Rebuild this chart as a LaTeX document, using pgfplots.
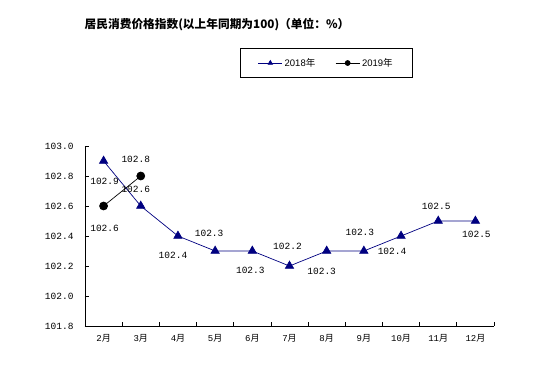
\documentclass[border=0pt]{standalone}
\usepackage{fontspec}
\setmainfont{Liberation Mono}
\newfontfamily\cjk{Noto Sans CJK SC}
\newfontfamily\sans{Liberation Sans}
\usepackage{pgfplots}
\pgfplotsset{compat=1.18}
\definecolor{navyc}{RGB}{0,0,128}
\begin{document}
\begin{tikzpicture}
\useasboundingbox (0pt,0pt) rectangle (539pt,388pt);
\node[font=\cjk\bfseries\fontsize{11.7}{13}\selectfont] at (217pt,363pt) {居民消费价格指数(以上年同期为100)（单位：\%）};
\begin{axis}[
  at={(85pt,62pt)}, anchor=south west,
  scale only axis, width=409pt, height=180pt,
  xmin=-0.5, xmax=10.5, ymin=101.8, ymax=103.0,
  axis lines*=left,
  axis line style={black, line width=0.8pt},
  tick align=inside,
  tick style={black, line width=0.8pt},
  xtick={0,1,2,3,4,5,6,7,8,9,10},
  xticklabels={2{\cjk 月},3{\cjk 月},4{\cjk 月},5{\cjk 月},6{\cjk 月},7{\cjk 月},8{\cjk 月},9{\cjk 月},10{\cjk 月},11{\cjk 月},12{\cjk 月}},
  major x tick style={draw=none},
  minor xtick={-0.5,0.5,1.5,2.5,3.5,4.5,5.5,6.5,7.5,8.5,9.5,10.5},
  minor tick length=4pt,
  major tick length=4pt,
  ytick={101.8,102.0,102.2,102.4,102.6,102.8,103.0},
  yticklabel style={font=\fontsize{9.5}{10}\selectfont, xshift=-8pt},
  xticklabel style={font=\fontsize{9}{10}\selectfont, yshift=-5pt},
  /pgf/number format/.cd, fixed, fixed zerofill, precision=1, assume math mode=true,
  /pgfplots/.cd,
  legend columns=2,
  legend style={at={(0.590,1.461)}, anchor=center, draw=black, line width=0.8pt,
    font=\sans\fontsize{9.5}{10}\selectfont, inner xsep=18pt, inner ysep=8pt,
    /tikz/every even column/.append style={column sep=18pt}},
  legend image code/.code={\draw[mark repeat=2,mark phase=2,#1] plot coordinates {(0pt,0pt) (12pt,0pt) (24pt,0pt)};},
  legend image post style={mark size=2.5pt},
  nodes near coords={\pgfmathprintnumber{\pgfplotspointmeta}},
  point meta=y,
  every node near coord/.append style={font=\fontsize{9.5}{10}\selectfont, text=black, anchor=center},
]
\addplot[navyc, line width=0.7pt, mark=triangle*, mark size=4.8pt, mark options={fill=navyc, draw=navyc},
  visualization depends on={value \thisrow{dx} \as \dx},
  visualization depends on={value \thisrow{dy} \as \dy},
  nodes near coords style={xshift=\dx pt, yshift=\dy pt}]
  table[x=x, y=y]{
x y dx dy
0 102.9 1 -20
1 102.6 -5 17
2 102.4 -5 -19
3 102.3 -6 18
4 102.3 -2 -19
5 102.2 -2 20
6 102.3 -5 -20
7 102.3 -4 19
8 102.4 -9 -15
9 102.5 -2 15
10 102.5 1 -13
};
\addlegendentry{2018{\cjk 年}}
\addplot[black, line width=0.7pt, mark=*, mark size=4pt, mark options={fill=black},
  visualization depends on={value \thisrow{dx} \as \dx},
  visualization depends on={value \thisrow{dy} \as \dy},
  nodes near coords style={xshift=\dx pt, yshift=\dy pt}]
  table[x=x, y=y]{
x y dx dy
0 102.6 1 -22
1 102.8 -5 17
};
\addlegendentry{2019{\cjk 年}}
\end{axis}
\end{tikzpicture}
\end{document}
